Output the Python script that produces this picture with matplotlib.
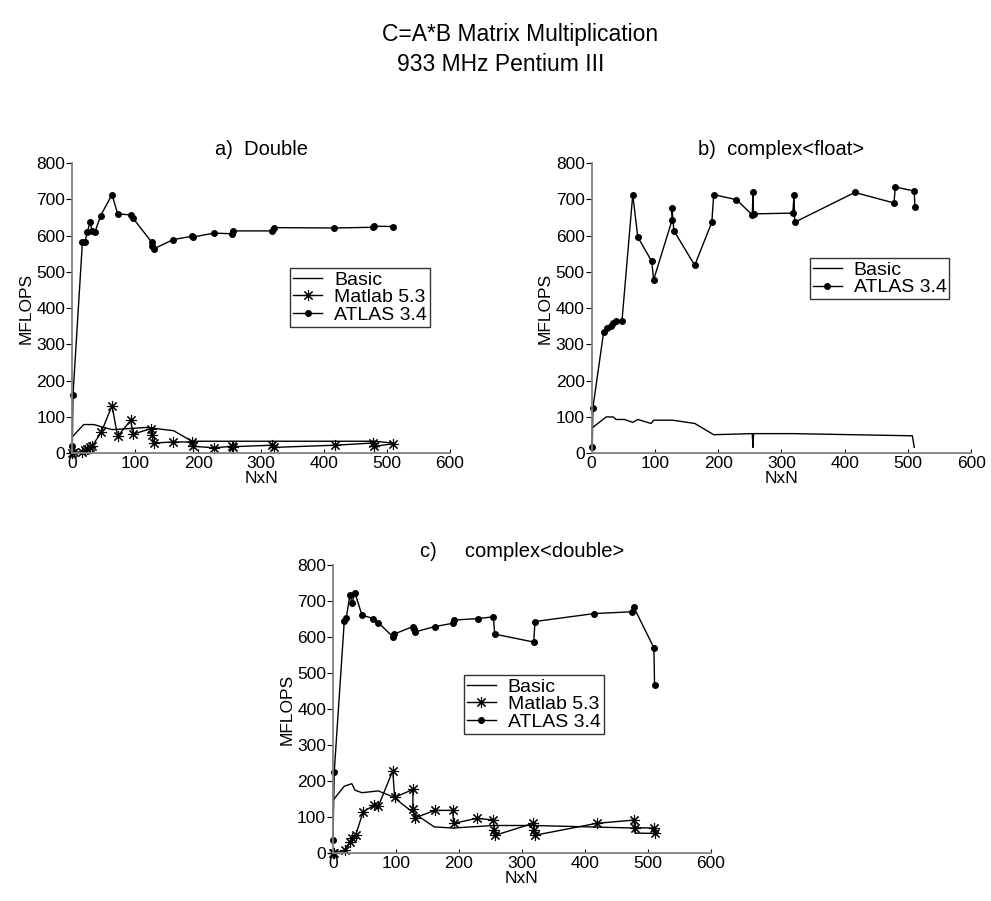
import matplotlib
matplotlib.use("Agg")
import matplotlib.pyplot as plt

plt.rcParams["font.family"] = ["Liberation Sans", "DejaVu Sans"]

# a) Double
a_basic_n = [0, 18, 34, 63, 118, 161, 190, 300, 479, 510]
a_basic_mf = [45, 79, 79, 65, 71, 62, 33, 33, 33, 28]
a_matlab_n = [0, 2, 16, 20, 24, 28, 32, 46, 63, 72, 93, 96, 125, 127, 129,
              160, 190, 192, 225, 254, 256, 317, 320, 417, 477, 480, 509]
a_matlab_mf = [0, 2, 4, 8, 12, 17, 21, 58, 131, 47, 91, 52, 68, 50, 28,
               31, 31, 19, 15, 19, 18, 22, 16, 22, 28, 19, 26]
a_atlas_n = [0, 1, 16, 20, 24, 28, 32, 36, 45, 63, 72, 93, 96, 126, 127, 129,
             160, 190, 192, 225, 254, 256, 318, 320, 416, 478, 480, 510]
a_atlas_mf = [19, 160, 582, 582, 610, 637, 612, 610, 655, 713, 660, 657, 649,
              582, 570, 563, 589, 598, 596, 607, 605, 613, 613, 622, 621, 623,
              626, 625]

# b) complex<float>
b_basic_n = [0, 1, 23, 34, 39, 52, 65, 73, 94, 98, 128, 163, 193, 254, 255,
             256, 318, 507, 510]
b_basic_mf = [16, 70, 100, 100, 93, 93, 85, 93, 82, 91, 91, 82, 51, 54, 16,
              54, 54, 48, 16]
b_atlas_n = [1, 2, 19, 24, 30, 33, 38, 48, 65, 73, 95, 98, 127, 127, 130, 163,
             190, 193, 229, 254, 255, 256, 318, 320, 321, 416, 478, 480, 510,
             511]
b_atlas_mf = [16, 125, 334, 345, 350, 359, 364, 365, 713, 596, 529, 478, 642,
              677, 614, 518, 637, 713, 699, 657, 719, 660, 662, 713, 637, 719,
              690, 734, 723, 680]

# c) complex<double>
c_basic_n = [0, 18, 23, 30, 35, 46, 72, 96, 128, 161, 191, 255, 318, 478,
             480, 510]
c_basic_mf = [147, 186, 189, 193, 175, 168, 173, 156, 112, 73, 70, 77, 77, 70,
              56, 55]
c_matlab_n = [0, 2, 19, 27, 31, 36, 48, 65, 72, 95, 98, 127, 127, 130, 162,
              190, 192, 229, 255, 256, 258, 318, 320, 321, 419, 478, 480, 510,
              511]
c_matlab_mf = [0, 0, 8, 31, 41, 50, 115, 133, 130, 229, 155, 177, 124, 98,
               119, 119, 83, 97, 92, 64, 50, 83, 65, 50, 83, 92, 71, 70, 55]
c_atlas_n = [0, 2, 18, 21, 27, 30, 35, 46, 64, 72, 95, 97, 127, 128, 130, 162,
             190, 192, 230, 255, 257, 319, 321, 415, 475, 478, 510, 511]
c_atlas_mf = [38, 226, 645, 652, 717, 694, 722, 661, 651, 640, 601, 608, 629,
              621, 614, 629, 638, 647, 651, 656, 608, 586, 643, 665, 670, 683,
              570, 468]

xticks = [0, 100, 200, 300, 400, 500, 600]
yticks = [0, 100, 200, 300, 400, 500, 600, 700, 800]

star = (8, 2, 0)
fs = 12.5


def setup(ax, title):
    ax.set_xlim(0, 600)
    ax.set_ylim(0, 800)
    ax.set_xticks(xticks)
    ax.set_yticks(yticks)
    for s in ["top", "right"]:
        ax.spines[s].set_visible(False)
    for s in ["left", "bottom"]:
        ax.spines[s].set_color("#808080")
        ax.spines[s].set_linewidth(1.3)
    ax.tick_params(axis="y", direction="out", length=4, color="black",
                   labelsize=fs, pad=1)
    ax.tick_params(axis="x", direction="in", length=3, color="black",
                   labelsize=fs, pad=2)
    ax.set_xlabel("NxN", fontsize=fs, labelpad=0)
    ax.set_ylabel("MFLOPS", fontsize=fs, labelpad=2)
    ax.set_title(title, fontsize=14.5, pad=6)


def add_legend(ax, anchor):
    leg = ax.legend(loc="upper left", bbox_to_anchor=anchor, fontsize=14,
                    frameon=True, fancybox=False, edgecolor="black",
                    handlelength=1.5, borderpad=0.15, labelspacing=0.0,
                    handletextpad=0.6, borderaxespad=0)
    leg.get_frame().set_linewidth(1)


fig = plt.figure(figsize=(9.91, 9.01), dpi=100)

# panel a
ax = fig.add_axes([0.073, 0.497, 0.381, 0.322])
ax.plot(a_basic_n, a_basic_mf, "k-", lw=1, label="Basic", clip_on=False)
ax.plot(a_matlab_n, a_matlab_mf, "k-", lw=1, marker=star, ms=8, mew=0.8,
        label="Matlab 5.3", clip_on=False)
ax.plot(a_atlas_n, a_atlas_mf, "k-", lw=1, marker="o", ms=4,
        label="ATLAS 3.4", clip_on=False)
setup(ax, "a)  Double")
add_legend(ax, (0.577, 0.638))

# panel b
ax = fig.add_axes([0.597, 0.497, 0.383, 0.322])
ax.plot(b_basic_n, b_basic_mf, "k-", lw=1, label="Basic", clip_on=False)
ax.plot(b_atlas_n, b_atlas_mf, "k-", lw=1, marker="o", ms=4,
        label="ATLAS 3.4", clip_on=False)
setup(ax, "b)  complex<float>")
add_legend(ax, (0.575, 0.672))

# panel c
ax = fig.add_axes([0.336, 0.053, 0.381, 0.320])
ax.plot(c_basic_n, c_basic_mf, "k-", lw=1, label="Basic", clip_on=False)
ax.plot(c_matlab_n, c_matlab_mf, "k-", lw=1, marker=star, ms=8, mew=0.8,
        label="Matlab 5.3", clip_on=False)
ax.plot(c_atlas_n, c_atlas_mf, "k-", lw=1, marker="o", ms=4,
        label="ATLAS 3.4", clip_on=False)
setup(ax, "c)     complex<double>")
add_legend(ax, (0.347, 0.618))

fig.text(0.525, 0.962, "C=A*B Matrix Multiplication", ha="center",
         va="center", fontsize=16.5)
fig.text(0.505, 0.928, "933 MHz Pentium III", ha="center", va="center",
         fontsize=16.5)

fig.savefig("out.png", dpi=100)
